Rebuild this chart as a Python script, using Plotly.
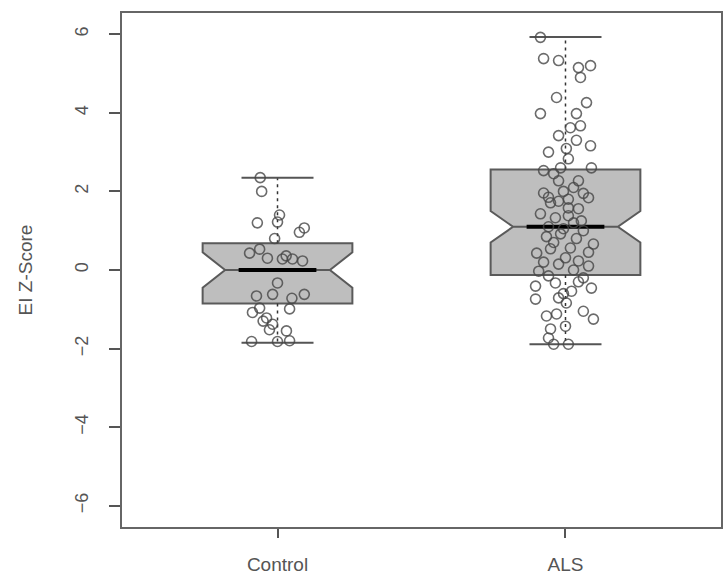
import plotly.graph_objects as go

# ---- data ----
groups = ["Control", "ALS"]
group_pos = [1, 2]
q1 = [-0.85, -0.13]
median = [0.0, 1.10]
q3 = [0.68, 2.56]
notch = [0.45, 0.40]
whisk_lo = [-1.85, -1.89]
whisk_hi = [2.35, 5.93]

ctrl_vals = [2.35, 2.0, 1.2, 1.4, 1.22, 0.96, 1.07, 0.8, 0.43, 0.53, 0.3, 0.28, 0.28, 0.23,
             -0.33, -0.66, -0.62, -0.72, -0.62, -0.99, -0.97, -1.08, -1.22, -1.38, -1.55,
             -1.52, -1.82, -1.82, -1.8, 0.36, -1.3]
ctrl_jit = [-0.06, -0.055, -0.07, 0.007, 0.0, 0.076, 0.093, -0.01, -0.097, -0.062, -0.035,
            0.017, 0.052, 0.087, 0.0, -0.073, -0.017, 0.05, 0.093, 0.042, -0.062, -0.087,
            -0.038, -0.017, 0.031, -0.028, -0.09, 0.0, 0.042, 0.03, -0.05]

als_vals = [5.92, 5.38, 5.33, 5.15, 5.2, 4.9, 4.39, 4.26, 3.98, 3.98, 3.62, 3.67, 3.42,
            3.09, 3.16, 2.83, 2.6, 2.53, 2.27, 2.27, 1.96, 1.84, 1.71, 1.58, 1.56, 1.43,
            1.33, 1.38, 1.25, 0.92, 0.43, 0.54, 0.56, 0.66, 0.31, 0.23, 0.1, -0.03, -0.41,
            -0.33, -0.54, -0.46, -0.74, -0.71, -0.84, -1.05, -1.17, -1.12, -1.25, -1.43,
            -1.5, -1.73, -1.89, -1.89,
            2.45, 2.1, 2.0, 1.85, 1.95, 1.75, 1.2, 1.1, 1.05, 1.0, 0.85, 0.8, 0.7, 0.45,
            0.15, 0.0, -0.2, -0.15, -0.6, -0.3, 0.2, 1.8, 2.6, 3.3, 3.0]
als_jit = [-0.087, -0.076, -0.024, 0.045, 0.087, 0.052, -0.031, 0.073, -0.087, 0.038,
           0.017, 0.052, -0.024, 0.003, 0.087, 0.01, 0.09, -0.076, -0.024, 0.045, -0.076,
           0.08, -0.052, 0.01, 0.045, -0.087, -0.035, 0.01, 0.055, -0.017, -0.1, -0.052,
           0.017, 0.097, 0.0, 0.045, 0.08, -0.093, -0.104, -0.035, 0.021, 0.09, -0.104,
           -0.024, 0.003, 0.062, -0.066, -0.031, 0.097, 0.0, -0.052, -0.059, -0.041, 0.01,
           -0.041, 0.028, -0.007, -0.059, 0.062, -0.024, 0.028, -0.059, -0.007, 0.062,
           -0.066, 0.038, -0.041, 0.08, -0.024, 0.028, 0.062, -0.059, -0.007, 0.045,
           -0.076, 0.01, -0.017, 0.038, -0.059]

# ---- style ----
box_half = 0.26
staple_half = 0.125
median_half = 0.135
box_line = "#5a5a5a"
box_fill = "#BEBEBE"
pt_color = "rgba(70,70,70,0.8)"

fig = go.Figure()

for i, g in enumerate(groups):
    p = group_pos[i]
    # notched box
    fig.add_trace(go.Box(
        x=[p], q1=[q1[i]], median=[median[i]], q3=[q3[i]],
        lowerfence=[q1[i]], upperfence=[q3[i]],
        notched=True, notchspan=[notch[i]], notchwidth=0.15,
        width=2 * box_half, whiskerwidth=0,
        fillcolor=box_fill, line=dict(color=box_line, width=2),
        boxpoints=False, showlegend=False, hoverinfo="skip"))
    # dashed whiskers
    for a, b in ((q3[i], whisk_hi[i]), (q1[i], whisk_lo[i])):
        fig.add_trace(go.Scatter(x=[p, p], y=[a, b], mode="lines",
                                 line=dict(color="#333333", width=1.5, dash="3px,4px"),
                                 showlegend=False, hoverinfo="skip"))
    # staples
    for w in (whisk_hi[i], whisk_lo[i]):
        fig.add_trace(go.Scatter(x=[p - staple_half, p + staple_half], y=[w, w], mode="lines",
                                 line=dict(color="#555555", width=2),
                                 showlegend=False, hoverinfo="skip"))
    # median
    fig.add_trace(go.Scatter(x=[p - median_half, p + median_half], y=[median[i], median[i]],
                             mode="lines", line=dict(color="#000000", width=4),
                             showlegend=False, hoverinfo="skip"))

# jittered points
fig.add_trace(go.Scatter(x=[group_pos[0] + j for j in ctrl_jit], y=ctrl_vals, mode="markers",
                         marker=dict(symbol="circle-open", size=10, color=pt_color,
                                     line=dict(width=1.6)),
                         showlegend=False))
fig.add_trace(go.Scatter(x=[group_pos[1] + j for j in als_jit], y=als_vals, mode="markers",
                         marker=dict(symbol="circle-open", size=10, color=pt_color,
                                     line=dict(width=1.6)),
                         showlegend=False))

axis_font = dict(family="Liberation Sans, Arial, sans-serif", size=18, color="#555555")

fig.update_layout(
    width=727, height=584,
    margin=dict(l=122, r=4, t=13, b=57),
    paper_bgcolor="white", plot_bgcolor="white",
    font=axis_font,
    xaxis=dict(range=[0.46, 2.54], tickvals=group_pos, ticktext=groups,
               showgrid=False, zeroline=False, showline=True, mirror=True,
               linecolor="#666666", linewidth=2, ticks="outside", ticklen=9,
               tickcolor="#555555", tickwidth=1.5, ticklabelstandoff=10,
               tickfont=dict(size=19)),
    yaxis=dict(range=[-6.54, 6.54], tickvals=[-6, -4, -2, 0, 2, 4, 6],
               tickangle=-90, showgrid=False, zeroline=False, showline=True, mirror=True,
               linecolor="#666666", linewidth=2, ticks="outside", ticklen=11,
               tickcolor="#555555", tickwidth=1.5, ticklabelstandoff=14,
               tickfont=dict(size=18),
               title=dict(text="EI Z-Score", standoff=34, font=dict(size=19))),
)

fig.write_html("out.html")
